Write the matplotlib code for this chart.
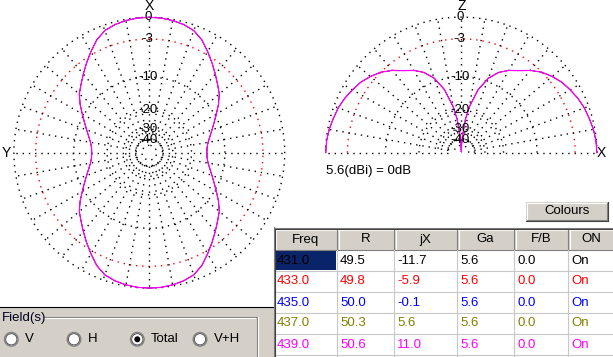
import numpy as np
import matplotlib
matplotlib.use("Agg")
import matplotlib.pyplot as plt
import matplotlib.transforms as mtransforms
from matplotlib.patches import Rectangle, Circle

plt.rcParams['font.family'] = ['Liberation Sans', 'DejaVu Sans']

W, H = 613, 357

# Table values
freq = ["431.0", "433.0", "435.0", "437.0", "439.0"]
r_vals = ["49.5", "49.8", "50.0", "50.3", "50.6"]
jx_vals = ["-11.7", "-5.9", "-0.1", "5.6", "11.0"]
ga_vals = ["5.6", "5.6", "5.6", "5.6", "5.6"]
fb_vals = ["0.0", "0.0", "0.0", "0.0", "0.0"]
on_vals = ["On", "On", "On", "On", "On"]
columns = ["Freq", "R", "jX", "Ga", "F/B", "ON"]
row_colors = ["#000000", "#ff0000", "#0000ff", "#808000", "#ff00ff"]

# Horizontal pattern (one quadrant, symmetric), angle from X axis
az_deg = [0, 5, 10, 15, 20, 25, 30, 35, 40, 45, 50, 55, 60, 65, 70, 75, 80, 85, 90]
az_db = [0, -0.03, -0.15, -0.35, -0.7, -1.45, -2.55, -3.65, -4.75, -5.8,
         -6.75, -8.1, -9.6, -10.95, -12.15, -13.2, -14.05, -14.55, -14.7]

# Vertical pattern (elevation from horizon, symmetric about Z)
el_deg = [0, 5, 10, 15, 20, 25, 30, 35, 40, 45, 50, 55, 60, 65, 70, 75, 80, 83, 86, 88, 90]
el_db = [0, -0.05, -0.18, -0.4, -0.6, -0.9, -1.3, -1.7, -2.3, -3.0, -4.0,
         -5.2, -6.1, -7.3, -9.2, -12.5, -18.3, -24, -36, -50, -90]

ring_db = [0, -3, -10, -20, -30, -40, -50]
ring_labels = ["0", "-3", "-10", "-20", "-30", "-40"]

GRAY = "#d4d0c8"
DOTS = (0, (1, 3.5))


def arrl(db):
    # ARRL log scale: 0.89 per 2 dB
    return 0.89 ** (-np.asarray(db, dtype=float) / 2.0)


fig = plt.figure(figsize=(W / 100, H / 100), dpi=100)
bg = fig.add_axes([0, 0, 1, 1])
bg.set_xlim(0, W)
bg.set_ylim(H, 0)
bg.axis("off")

RMAX = 1.02


def polar_at(cx, cy, rpx):
    R = rpx * RMAX
    ax = fig.add_axes([(cx - R) / W, (H - cy - R) / H, 2 * R / W, 2 * R / H],
                      projection="polar")
    ax.set_theta_zero_location("N")
    ax.set_rlim(0, RMAX)
    ax.set_xticks([])
    ax.set_yticks([])
    ax.grid(False)
    ax.spines["polar"].set_visible(False)
    ax.patch.set_alpha(0)
    return ax


def draw_grid(ax, theta, spokes):
    for db in ring_db:
        col = "#ff0000" if db == -3 else "black"
        ax.plot(theta, np.full_like(theta, arrl(db)), ls=DOTS, lw=1.0, color=col)
    for a in spokes:
        t = np.radians(a)
        ax.plot([t, t], [arrl(-40), 1.0], ls=DOTS, lw=1.0, color="black")
    shift = mtransforms.offset_copy(ax.transData, fig=fig, x=-1.5, y=0, units="dots")
    for db, lab in zip(ring_db, ring_labels):
        ax.text(0, arrl(db), lab, ha="center", va="center", fontsize=9.5, transform=shift)


# ---- left: horizontal pattern ----
axl = polar_at(149.3, 152.7, 135.4)
draw_grid(axl, np.linspace(0, 2 * np.pi, 721), range(0, 360, 10))
az = np.array(az_deg, dtype=float)
adb = np.array(az_db)
th_az = np.radians(np.concatenate([az, 180 - az[::-1], 180 + az, 360 - az[::-1]]))
db_az = np.concatenate([adb, adb[::-1], adb, adb[::-1]])
for c in row_colors:
    axl.plot(th_az, arrl(db_az), color=c, lw=0.9 if c == "#ff00ff" else 0.4)
axl.text(0, 1.083, "X", ha="center", va="center", fontsize=10)
axl.text(np.pi / 2, 1.058, "Y", ha="center", va="center", fontsize=10)

# ---- right: vertical pattern ----
axr = polar_at(461.3, 152.7, 135.6)
draw_grid(axr, np.linspace(-np.pi / 2, np.pi / 2, 361), range(-90, 91, 10))
el = np.array(el_deg, dtype=float)
edb = np.array(el_db)
th_el = np.radians(np.concatenate([-(90 - el), (90 - el)[::-1]]))
db_el = np.concatenate([edb, edb[::-1]])
for c in row_colors:
    axr.plot(th_el, arrl(db_el), color=c, lw=0.9 if c == "#ff00ff" else 0.4)
axr.text(0, 1.083, "Z", ha="center", va="center", fontsize=10)
axr.text(-np.pi / 2, 1.035, "X", ha="center", va="center", fontsize=10)

bg.text(326, 171, ga_vals[0] + "(dBi) = 0dB", ha="left", va="center", fontsize=9.5)

# ---- Field(s) panel ----
bg.add_patch(Rectangle((0, 307), 274, 50, fc=GRAY, ec="none"))
bg.plot([0, 274], [306.5, 306.5], color="black", lw=0.8)
bg.plot([44, 256], [316.5, 316.5], color="#808080", lw=0.8)
bg.plot([44, 255], [317.5, 317.5], color="white", lw=0.8)
bg.plot([256.5, 256.5], [316.5, 357], color="#808080", lw=0.8)
bg.plot([257.5, 257.5], [317, 357], color="white", lw=0.8)
bg.text(2, 317.5, "Field(s)", ha="left", va="center", fontsize=9.5, color="#000020")
radio_x = [11.3, 74.0, 137.3, 200.0]
radio_lab = ["V", "H", "Total", "V+H"]
for x, lab in zip(radio_x, radio_lab):
    bg.add_patch(Circle((x, 339.3), 6.8, fc="white", ec="#808080", lw=1.0))
    bg.add_patch(Circle((x, 339.3), 5.6, fc="none", ec="#404040", lw=0.6))
    bg.text(x + 13.5, 339.5, lab, ha="left", va="center", fontsize=9.5)
bg.add_patch(Circle((radio_x[2], 339.3), 3.0, fc="black", ec="none"))

# ---- Colours button ----
bg.add_patch(Rectangle((526, 202), 82, 19, fc=GRAY, ec="none"))
bg.plot([526.5, 607], [202.5, 202.5], color="white", lw=0.8)
bg.plot([526.5, 526.5], [202.5, 220.5], color="white", lw=0.8)
bg.plot([526, 608], [220.5, 220.5], color="#404040", lw=0.8)
bg.plot([607.5, 607.5], [202, 221], color="#404040", lw=0.8)
bg.plot([527, 607], [219.5, 219.5], color="#808080", lw=0.8)
bg.plot([606.5, 606.5], [203, 220], color="#808080", lw=0.8)
bg.text(567, 211.5, "Colours", ha="center", va="center", fontsize=9.5)

# ---- table ----
col_x = [274, 337, 394, 457, 514, 568, 614]
top, hdr_bot, row_h = 228, 250, 21
bg.add_patch(Rectangle((274, hdr_bot), 340, H - hdr_bot, fc="white", ec="none"))
for i, name in enumerate(columns):
    x0, x1 = col_x[i], col_x[i + 1]
    bg.add_patch(Rectangle((x0, top), x1 - x0, hdr_bot - top, fc=GRAY, ec="none"))
    bg.plot([x0 + 1.5, x0 + 1.5], [top + 1, hdr_bot - 1], color="white", lw=0.8)
    bg.plot([x0 + 1, x1 - 1], [top + 1.5, top + 1.5], color="white", lw=0.8)
    bg.plot([x1 - 0.5, x1 - 0.5], [top, hdr_bot], color="#808080", lw=0.8)
    bg.plot([x0, x1], [hdr_bot - 0.5, hdr_bot - 0.5], color="#808080", lw=0.8)
    bg.text((x0 + x1) / 2, (top + hdr_bot) / 2 + 0.5, name, ha="center", va="center", fontsize=9.5)

rows = len(freq)
for k in range(rows + 1):
    y = hdr_bot + row_h * (k + 1) - 0.5
    bg.plot([274, 614], [y, y], color="#c8c8c8", lw=0.8)
for x in col_x[1:-1]:
    bg.plot([x - 0.5, x - 0.5], [hdr_bot, H], color="#c8c8c8", lw=0.8)
bg.add_patch(Rectangle((275, hdr_bot), col_x[1] - 276, row_h - 1, fc="#0a246a", ec="none"))

cells = [freq, r_vals, jx_vals, ga_vals, fb_vals, on_vals]
for i, colvals in enumerate(cells):
    for k, v in enumerate(colvals):
        bg.text(col_x[i] + 3, hdr_bot + row_h * k + row_h / 2, v, ha="left", va="center",
                fontsize=9.5, color=row_colors[k])

bg.plot([273.5, 273.5], [227, H], color="#808080", lw=0.8)
bg.plot([274.5, 274.5], [228, H], color="#404040", lw=0.8)
bg.plot([273.5, 614], [227.5, 227.5], color="#808080", lw=0.8)
bg.plot([274.5, 614], [228.5, 228.5], color="#404040", lw=0.8)

fig.savefig("out.png", dpi=100)
